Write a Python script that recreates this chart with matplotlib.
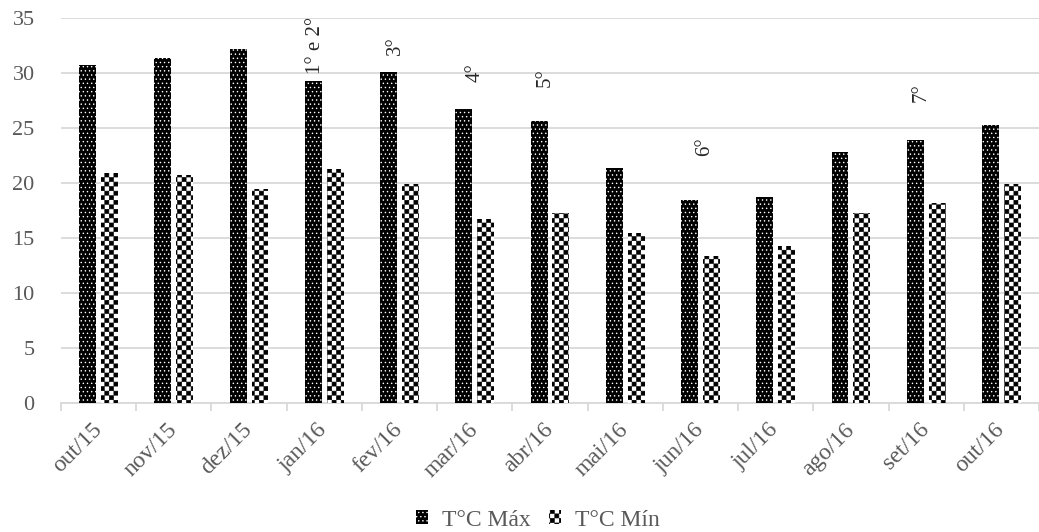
import warnings
import numpy as np
import matplotlib
matplotlib.use("Agg")
import matplotlib.pyplot as plt
import matplotlib.hatch as mhatch
from matplotlib.path import Path

warnings.filterwarnings("ignore")

# ---------------- data ----------------
months = ["out/15", "nov/15", "dez/15", "jan/16", "fev/16", "mar/16", "abr/16",
          "mai/16", "jun/16", "jul/16", "ago/16", "set/16", "out/16"]
t_max = [30.7, 31.4, 32.2, 29.3, 30.1, 26.75, 25.6, 21.4, 18.5, 18.7, 22.8, 23.9, 25.3]
t_min = [20.9, 20.7, 19.5, 21.3, 19.9, 16.7, 17.3, 15.5, 13.4, 14.3, 17.3, 18.2, 19.9]
series_names = ["T°C Máx", "T°C Mín"]

# campaign annotations: label, month index, y (data units)
ann_labels = ["1° e 2°", "3°", "4°", "5°", "6°", "7°"]
ann_month = [3, 4, 5, 6, 8, 11]
ann_y = [29.9, 31.6, 29.2, 28.7, 22.5, 27.4]
ann_dx = [-0.12, -0.06, 0.01, -0.07, 0.06, -0.07]


# ---------------- custom checker hatch ----------------
class Checker(mhatch.HatchPatternBase):
    filled = True

    def __init__(self, hatch, density):
        self.n = hatch.count('c') * 11
        self.num_vertices = (2 * self.n * self.n) * 5 if self.n else 0

    def set_vertices_and_codes(self, vertices, codes):
        m = 2 * self.n
        cell = 1.0 / m
        ins = cell * 0.06
        sq = np.array([[ins, ins], [cell - ins, ins], [cell - ins, cell - ins],
                       [ins, cell - ins], [ins, ins]])
        sc = np.array([Path.MOVETO, Path.LINETO, Path.LINETO, Path.LINETO,
                       Path.CLOSEPOLY], dtype=Path.code_type)
        vparts, cparts = [], []
        for i in range(m):
            for j in range(m):
                if (i + j) % 2 == 0:
                    vparts.append(sq + [i * cell, j * cell])
                    cparts.append(sc)
        np.concatenate(vparts, out=vertices)
        np.concatenate(cparts, out=codes)


mhatch._hatch_types.append(Checker)

plt.rcParams['font.family'] = ['Liberation Serif', 'DejaVu Serif']
plt.rcParams['hatch.linewidth'] = 0.5

fig = plt.figure(figsize=(10.39, 5.32), dpi=100)
ax = fig.add_axes([61 / 1039, 129 / 532, 1 - 61 / 1039, 385 / 532])

x = np.arange(len(months))
w = 0.225
off = 0.145
ax.bar(x - off, t_max, width=w, facecolor='black', edgecolor='white',
       linewidth=0, hatch='....', label=series_names[0], zorder=3)
ax.bar(x + off, t_min, width=w, facecolor='white', edgecolor='black',
       linewidth=0, hatch='c', label=series_names[1], zorder=3)

for lab, mi, yy, dx in zip(ann_labels, ann_month, ann_y, ann_dx):
    ax.text(mi + dx, yy, lab, rotation=90, ha='center', va='bottom',
            fontsize=15, color='#262626', zorder=4)

ax.set_ylim(0, 35)
ax.set_xlim(-0.5, -0.5 + (1039 - 61) / 76.1)
ax.set_yticks(np.arange(0, 36, 5))
ax.yaxis.grid(True, color='#d9d9d9', linewidth=1.3, zorder=0)
ax.set_axisbelow(True)
ax.tick_params(axis='y', length=0, pad=19, labelsize=16, labelcolor='#595959')

ax.set_xticks(x)
ax.set_xticklabels(months, rotation=45, ha='right', va='center',
                   rotation_mode='anchor')
ax.set_xticks(np.arange(-0.5, len(months), 1.0), minor=True)
ax.tick_params(axis='x', which='major', length=0, pad=17, labelsize=17,
               labelcolor='#595959')
ax.tick_params(axis='x', which='minor', length=6, width=1.3, color='#d9d9d9')

for s in ['left', 'right', 'top']:
    ax.spines[s].set_visible(False)
ax.spines['bottom'].set_color('#d9d9d9')
ax.spines['bottom'].set_linewidth(1.3)

leg = fig.legend(loc='center', bbox_to_anchor=(538 / 1039, 1 - 520 / 532),
                 ncol=2, frameon=False, fontsize=17, handlelength=0.5,
                 handleheight=0.5, handletextpad=0.6, columnspacing=0.8)
for t in leg.get_texts():
    t.set_color('#595959')

fig.savefig('out.png', dpi=100)
